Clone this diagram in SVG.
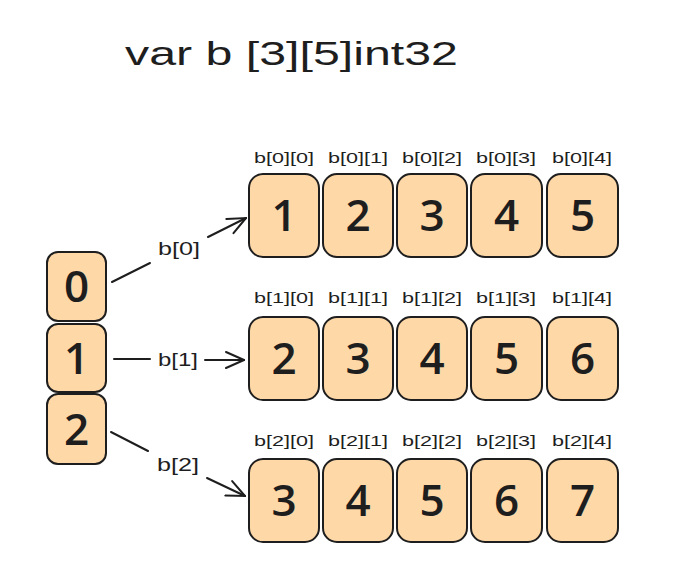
<svg xmlns="http://www.w3.org/2000/svg" width="676" height="588" viewBox="0 0 676 588">
<defs>
<style>
.cell{fill:#ffd8a8;stroke:#1e1e1e;stroke-width:2}
.num{font-family:"Open Sans","Liberation Sans",sans-serif;font-size:44px;font-weight:600;fill:#1e1e1e;text-anchor:middle}
.idx{font-family:"Liberation Sans",sans-serif;font-size:15px;fill:#1e1e1e;text-anchor:middle}
.lbl{font-family:"Liberation Sans",sans-serif;font-size:19px;fill:#1e1e1e;text-anchor:middle}
.title{font-family:"Liberation Sans",sans-serif;font-size:34px;fill:#1e1e1e}
.ln{stroke:#1e1e1e;stroke-width:2;fill:none;stroke-linecap:round}
</style>
<marker id="ah" viewBox="0 0 20 20" refX="19" refY="10" markerWidth="20" markerHeight="20" markerUnits="userSpaceOnUse" orient="auto">
<path d="M1,2 L19,10 L1,18" fill="none" stroke="#1e1e1e" stroke-width="2" stroke-linecap="round"/>
</marker>
</defs>
<rect width="676" height="588" fill="#ffffff"/>
<text class="title" x="125" y="65" textLength="333" lengthAdjust="spacingAndGlyphs">var b [3][5]int32</text>

<g id="idx0"><rect class="cell" x="47" y="252" width="59" height="69" rx="11"/><text class="num" x="76.5" y="302">0</text></g>
<g id="idx1"><rect class="cell" x="47" y="324" width="59" height="68" rx="11"/><text class="num" x="76.5" y="374">1</text></g>
<g id="idx2"><rect class="cell" x="47" y="394" width="59" height="70" rx="11"/><text class="num" x="76.5" y="445">2</text></g>

<g id="row0">
<g id="r0c0"><text class="idx" x="284" y="163" textLength="60" lengthAdjust="spacingAndGlyphs">b[0][0]</text><rect class="cell" x="249" y="174" width="70" height="83" rx="14"/><text class="num" x="284" y="231">1</text></g>
<g id="r0c1"><text class="idx" x="358" y="163" textLength="60" lengthAdjust="spacingAndGlyphs">b[0][1]</text><rect class="cell" x="323" y="174" width="70" height="83" rx="14"/><text class="num" x="358" y="231">2</text></g>
<g id="r0c2"><text class="idx" x="432" y="163" textLength="60" lengthAdjust="spacingAndGlyphs">b[0][2]</text><rect class="cell" x="397" y="174" width="70" height="83" rx="14"/><text class="num" x="432" y="231">3</text></g>
<g id="r0c3"><text class="idx" x="506" y="163" textLength="60" lengthAdjust="spacingAndGlyphs">b[0][3]</text><rect class="cell" x="471" y="174" width="71" height="83" rx="14"/><text class="num" x="506.5" y="231">4</text></g>
<g id="r0c4"><text class="idx" x="582" y="163" textLength="60" lengthAdjust="spacingAndGlyphs">b[0][4]</text><rect class="cell" x="547" y="174" width="71" height="83" rx="14"/><text class="num" x="582.5" y="231">5</text></g>
</g>
<g id="row1">
<g id="r1c0"><text class="idx" x="284" y="303" textLength="60" lengthAdjust="spacingAndGlyphs">b[1][0]</text><rect class="cell" x="249" y="317" width="70" height="83" rx="14"/><text class="num" x="284" y="374">2</text></g>
<g id="r1c1"><text class="idx" x="358" y="303" textLength="60" lengthAdjust="spacingAndGlyphs">b[1][1]</text><rect class="cell" x="323" y="317" width="70" height="83" rx="14"/><text class="num" x="358" y="374">3</text></g>
<g id="r1c2"><text class="idx" x="432" y="303" textLength="60" lengthAdjust="spacingAndGlyphs">b[1][2]</text><rect class="cell" x="397" y="317" width="70" height="83" rx="14"/><text class="num" x="432" y="374">4</text></g>
<g id="r1c3"><text class="idx" x="506" y="303" textLength="60" lengthAdjust="spacingAndGlyphs">b[1][3]</text><rect class="cell" x="471" y="317" width="71" height="83" rx="14"/><text class="num" x="506.5" y="374">5</text></g>
<g id="r1c4"><text class="idx" x="582" y="303" textLength="60" lengthAdjust="spacingAndGlyphs">b[1][4]</text><rect class="cell" x="547" y="317" width="71" height="83" rx="14"/><text class="num" x="582.5" y="374">6</text></g>
</g>
<g id="row2">
<g id="r2c0"><text class="idx" x="284" y="446" textLength="60" lengthAdjust="spacingAndGlyphs">b[2][0]</text><rect class="cell" x="249" y="459" width="70" height="83" rx="14"/><text class="num" x="284" y="516">3</text></g>
<g id="r2c1"><text class="idx" x="358" y="446" textLength="60" lengthAdjust="spacingAndGlyphs">b[2][1]</text><rect class="cell" x="323" y="459" width="70" height="83" rx="14"/><text class="num" x="358" y="516">4</text></g>
<g id="r2c2"><text class="idx" x="432" y="446" textLength="60" lengthAdjust="spacingAndGlyphs">b[2][2]</text><rect class="cell" x="397" y="459" width="70" height="83" rx="14"/><text class="num" x="432" y="516">5</text></g>
<g id="r2c3"><text class="idx" x="506" y="446" textLength="60" lengthAdjust="spacingAndGlyphs">b[2][3]</text><rect class="cell" x="471" y="459" width="71" height="83" rx="14"/><text class="num" x="506.5" y="516">6</text></g>
<g id="r2c4"><text class="idx" x="582" y="446" textLength="60" lengthAdjust="spacingAndGlyphs">b[2][4]</text><rect class="cell" x="547" y="459" width="71" height="83" rx="14"/><text class="num" x="582.5" y="516">7</text></g>
</g>

<g id="connectors">
<line class="ln" x1="112" y1="282" x2="150" y2="263"/>
<line class="ln" x1="208" y1="237" x2="246" y2="218" marker-end="url(#ah)"/>
<text class="lbl" x="179" y="255" textLength="42" lengthAdjust="spacingAndGlyphs">b[0]</text>
<line class="ln" x1="114" y1="359" x2="150" y2="359"/>
<line class="ln" x1="205" y1="360" x2="244" y2="360" marker-end="url(#ah)"/>
<text class="lbl" x="178" y="366" textLength="40" lengthAdjust="spacingAndGlyphs">b[1]</text>
<line class="ln" x1="111" y1="432" x2="148" y2="451"/>
<line class="ln" x1="207" y1="478" x2="245" y2="496" marker-end="url(#ah)"/>
<text class="lbl" x="178" y="471" textLength="42" lengthAdjust="spacingAndGlyphs">b[2]</text>
</g>
</svg>
